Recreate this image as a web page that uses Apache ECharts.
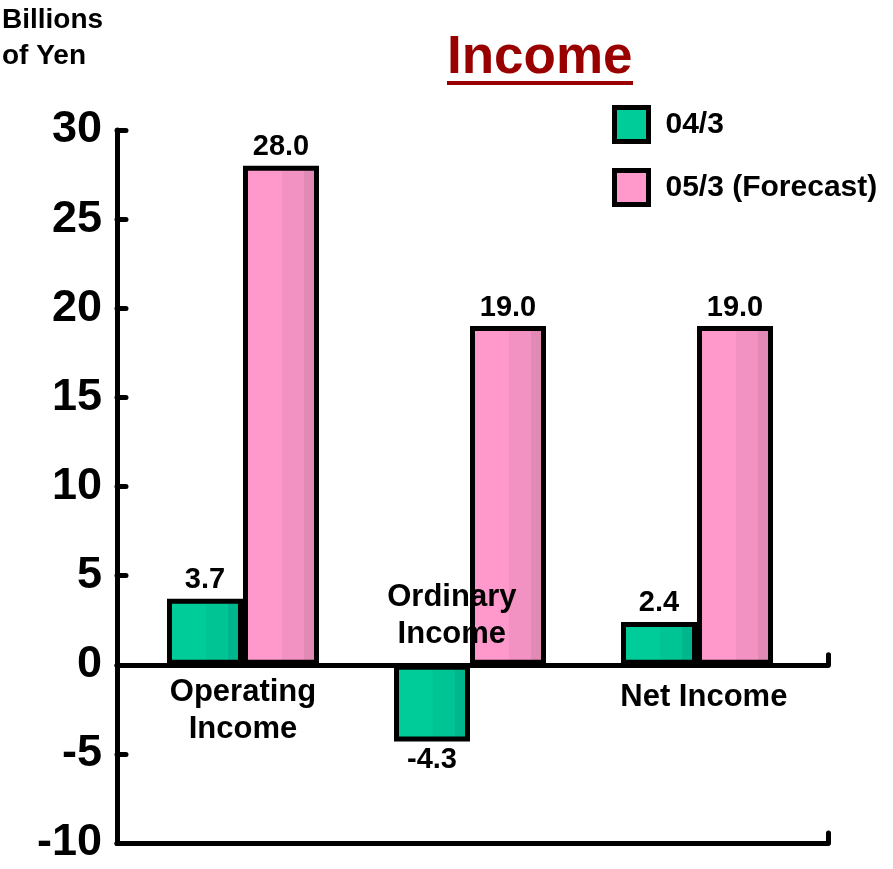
<!DOCTYPE html>
<html>
<head>
<meta charset="utf-8">
<script src="https://cdn.jsdelivr.net/npm/echarts@6/dist/echarts.min.js"></script>
<style>
  html, body { margin: 0; padding: 0; background: #ffffff; }
  #chart { width: 893px; height: 869px; }
</style>
</head>
<body>
<div id="chart"></div>
<script>
// Income, billions of yen
const categories = ['Operating\nIncome', 'Ordinary\nIncome', 'Net Income'];
const seriesNames = ['04/3', '05/3 (Forecast)'];
const actual0403 = [3.7, -4.3, 2.4];
const forecast0503 = [28.0, 19.0, 19.0];
const yTicks = { min: -10, max: 30, step: 5 };

// Category slots sit at 1, 2, 3 on a numeric x axis so the axis lines can run wider than the bars
const categorySlots = [1, 2, 3];
const X_MIN = 0.445, X_MAX = 3.577;
// Where each category caption is anchored, in axis units
const captionAnchors = [[1.0, -2.6], [1.92, 2.75], [3.03, -1.85]];

const FONT = 'Arial, "Liberation Sans", Helvetica, sans-serif';
const LINE_W = 5;

function stripes(c1, c2, c3) {
  return new echarts.graphic.LinearGradient(0, 0, 1, 0, [
    { offset: 0, color: c1 }, { offset: 0.51, color: c1 },
    { offset: 0.51, color: c2 }, { offset: 0.8, color: c2 },
    { offset: 0.8, color: c3 }, { offset: 1, color: c3 }
  ]);
}

function barData(values) {
  return values.map((v, i) => ({
    value: [categorySlots[i], v],
    label: { position: v < 0 ? 'bottom' : 'top' }
  }));
}

const barLabel = {
  show: true,
  color: '#000',
  fontFamily: FONT,
  fontWeight: 'bold',
  fontSize: 29,
  distance: 4,
  formatter: p => p.value[1].toFixed(1)
};

const blackLine = { color: '#000', width: LINE_W, cap: 'round' };

const chart = echarts.init(document.getElementById('chart'), null, { renderer: 'canvas' });

chart.setOption({
  animation: false,
  backgroundColor: '#ffffff',
  title: [
    {
      text: 'Income',
      left: 447, top: 32, padding: 0,
      textStyle: { color: '#990000', fontFamily: FONT, fontWeight: 'bold', fontSize: 53 }
    },
    {
      text: 'Billions\nof Yen',
      left: 2, top: 2, padding: 0,
      textStyle: { color: '#000', fontFamily: FONT, fontWeight: 'bold', fontSize: 28, lineHeight: 36 }
    }
  ],
  graphic: [
    // underline beneath the title
    { type: 'rect', left: 447, top: 81, shape: { width: 186, height: 4 }, style: { fill: '#990000' } }
  ],
  legend: {
    orient: 'vertical',
    left: 612, top: 105, padding: 0,
    itemWidth: 34, itemHeight: 34, itemGap: 24,
    icon: 'rect',
    itemStyle: { borderColor: '#000', borderWidth: 5 },
    textStyle: { color: '#000', fontFamily: FONT, fontWeight: 'bold', fontSize: 30, lineHeight: 34, padding: [0, 0, 0, 12] },
    data: [
      { name: seriesNames[0], itemStyle: { color: '#00CC99' } },
      { name: seriesNames[1], itemStyle: { color: '#FF99CC' } }
    ]
  },
  grid: { left: 117, right: 65, top: 130, bottom: 26, containLabel: false },
  xAxis: [
    {
      type: 'value', min: X_MIN, max: X_MAX,
      axisLine: { show: true, onZero: true, lineStyle: blackLine },
      axisTick: { show: true, inside: true, length: 10, customValues: [X_MAX], lineStyle: blackLine },
      axisLabel: { show: false },
      splitLine: { show: false }
    },
    {
      type: 'value', min: X_MIN, max: X_MAX, position: 'bottom',
      axisLine: { show: true, onZero: false, lineStyle: blackLine },
      axisTick: { show: true, inside: true, length: 10, customValues: [X_MAX], lineStyle: blackLine },
      axisLabel: { show: false },
      splitLine: { show: false }
    }
  ],
  yAxis: {
    type: 'value', min: yTicks.min, max: yTicks.max, interval: yTicks.step,
    axisLine: { show: true, onZero: false, lineStyle: blackLine },
    axisTick: { show: true, inside: true, length: 9, lineStyle: blackLine },
    axisLabel: { color: '#000', fontFamily: FONT, fontWeight: 'bold', fontSize: 45, margin: 15 },
    splitLine: { show: false }
  },
  series: [
    {
      name: seriesNames[0], type: 'bar', xAxisIndex: 0,
      barWidth: 76, barGap: '0%',
      itemStyle: { color: stripes('#00CC99', '#00C494', '#00B68C'), borderColor: '#000', borderWidth: LINE_W },
      label: barLabel,
      data: barData(actual0403), z: 2
    },
    {
      name: seriesNames[1], type: 'bar', xAxisIndex: 0,
      barWidth: 76, barGap: '0%',
      itemStyle: { color: stripes('#FF99CC', '#F292C3', '#E28AB6'), borderColor: '#000', borderWidth: LINE_W },
      label: barLabel,
      data: barData(forecast0503), z: 2
    },
    {
      name: 'captions', type: 'scatter', xAxisIndex: 0,
      symbolSize: 0, silent: true, z: 10,
      itemStyle: { opacity: 1 },
      label: {
        show: true, position: 'inside', color: '#000', opacity: 1, fontFamily: FONT, fontWeight: 'bold',
        fontSize: 31, lineHeight: 37, align: 'center',
        formatter: p => p.name
      },
      data: categories.map((c, i) => ({ name: c, value: captionAnchors[i] }))
    }
  ]
});
</script>
</body>
</html>
